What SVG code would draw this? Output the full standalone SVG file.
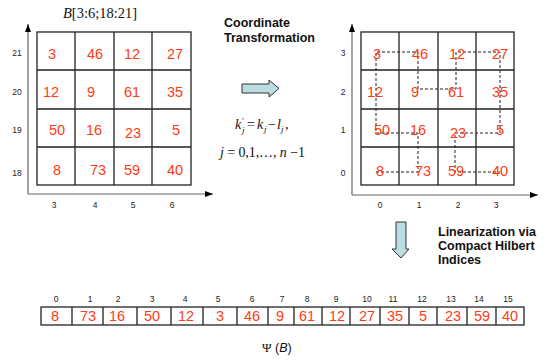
<svg xmlns="http://www.w3.org/2000/svg" width="549" height="360" viewBox="0 0 549 360">
  <defs>
    <marker id="ah" viewBox="0 0 8 6" refX="8" refY="3" markerWidth="8" markerHeight="6" orient="auto" markerUnits="userSpaceOnUse">
      <path d="M0,0 L8,3 L0,6 z" fill="#000"/>
    </marker>
    <style>
      .grid { fill: none; stroke: #222; stroke-width: 1.3; }
      .axis { fill: none; stroke: #666; stroke-width: 1.2; }
      .num { font-family: "Liberation Sans", Arial, sans-serif; font-size: 14.5px; fill: #ff3b14; text-anchor: middle; }
      .tick { font-family: "Liberation Sans", Arial, sans-serif; font-size: 8.5px; fill: #222; text-anchor: middle; }
      .head { font-family: "Liberation Sans", Arial, sans-serif; font-size: 12.5px; font-weight: bold; fill: #111; }
      .math { font-family: "Liberation Serif", "Times New Roman", serif; fill: #111; }
      .path { fill: none; stroke: #222; stroke-width: 1; stroke-dasharray: 3 2; }
      .block { fill: #b9dde0; stroke: #333; stroke-width: 1; }
    </style>
  </defs>

  <!-- source block B[3:6;18:21] -->
  <g id="source-grid">
    <text class="math" x="100" y="18" font-size="14.5" text-anchor="middle"><tspan font-style="italic">B</tspan>[3:6;18:21]</text>
    <rect class="grid" x="37" y="32" width="154" height="153"/>
    <path class="grid" d="M75,32V185 M114,32V185 M152,32V185 M37,70H191 M37,109H191 M37,147H191"/>
    <path class="axis" d="M28,194V24" marker-end="url(#ah)"/>
    <path class="axis" d="M28,194H213" marker-end="url(#ah)"/>
    <text class="tick" x="17" y="56">21</text>
    <text class="tick" x="17" y="95">20</text>
    <text class="tick" x="17" y="133">19</text>
    <text class="tick" x="17" y="176">18</text>
    <text class="tick" x="54" y="208">3</text>
    <text class="tick" x="95" y="208">4</text>
    <text class="tick" x="133" y="208">5</text>
    <text class="tick" x="172" y="208">6</text>
    <text class="num" x="52" y="59">3</text>
    <text class="num" x="95" y="59">46</text>
    <text class="num" x="132" y="59">12</text>
    <text class="num" x="175" y="59">27</text>
    <text class="num" x="51" y="97">12</text>
    <text class="num" x="91" y="97">9</text>
    <text class="num" x="132" y="97">61</text>
    <text class="num" x="175" y="97">35</text>
    <text class="num" x="57" y="135">50</text>
    <text class="num" x="94" y="135">16</text>
    <text class="num" x="133" y="138">23</text>
    <text class="num" x="176" y="135">5</text>
    <text class="num" x="57" y="175">8</text>
    <text class="num" x="98" y="175">73</text>
    <text class="num" x="132" y="175">59</text>
    <text class="num" x="175" y="175">40</text>
  </g>

  <!-- transformation step -->
  <g id="transform">
    <text class="head" x="224" y="27">Coordinate</text>
    <text class="head" x="224" y="42">Transformation</text>
    <path class="block" d="M242,84H269V80L279,88.5L269,97V93H242z"/>
    <g class="math" font-size="14">
      <text x="235" y="129" font-style="italic">k</text>
      <text x="242" y="124" font-size="9">'</text>
      <text x="242" y="133" font-size="9" font-style="italic">j</text>
      <text x="247" y="129">=</text>
      <text x="257" y="129" font-style="italic">k</text>
      <text x="264" y="132" font-size="9" font-style="italic">j</text>
      <text x="268" y="129">−</text>
      <text x="277" y="129" font-style="italic">l</text>
      <text x="281" y="132" font-size="9" font-style="italic">j</text>
      <text x="285" y="129">,</text>
    </g>
    <text class="math" x="220" y="157" font-size="14" textLength="85" lengthAdjust="spacing"><tspan font-style="italic">j</tspan> = 0,1,…, <tspan font-style="italic">n</tspan> −1</text>
  </g>

  <!-- transformed block with Hilbert curve -->
  <g id="target-grid">
    <rect class="grid" x="361" y="32" width="153" height="153"/>
    <path class="grid" d="M399,32V185 M438,32V185 M476,32V185 M361,70H514 M361,109H514 M361,147H514"/>
    <path class="axis" d="M352,195V24" marker-end="url(#ah)"/>
    <path class="axis" d="M352,195H538" marker-end="url(#ah)"/>
    <text class="tick" x="343" y="56">3</text>
    <text class="tick" x="343" y="95">2</text>
    <text class="tick" x="343" y="133">1</text>
    <text class="tick" x="343" y="176">0</text>
    <text class="tick" x="380" y="208">0</text>
    <text class="tick" x="419" y="208">1</text>
    <text class="tick" x="458" y="208">2</text>
    <text class="tick" x="496" y="208">3</text>
  </g>

  <g id="connectors">
    <path class="path" d="M376,172H418V133H376V52H418V89H456V52H500V133H455V172H500"/>
  </g>

  <g id="target-values">
    <text class="num" x="377" y="59">3</text>
    <text class="num" x="420" y="59">46</text>
    <text class="num" x="457" y="59">12</text>
    <text class="num" x="500" y="59">27</text>
    <text class="num" x="375" y="97">12</text>
    <text class="num" x="415" y="97">9</text>
    <text class="num" x="456" y="97">61</text>
    <text class="num" x="500" y="97">35</text>
    <text class="num" x="382" y="135">50</text>
    <text class="num" x="418" y="135">16</text>
    <text class="num" x="458" y="138">23</text>
    <text class="num" x="500" y="135">5</text>
    <text class="num" x="380" y="176">8</text>
    <text class="num" x="423" y="176">73</text>
    <text class="num" x="456" y="176">59</text>
    <text class="num" x="500" y="176">40</text>
  </g>

  <!-- linearization step -->
  <g id="linearize">
    <path class="block" d="M396,222H406V249H409L401,258L392,249H396z"/>
    <text class="head" x="438" y="236">Linearization via</text>
    <text class="head" x="438" y="250">Compact Hilbert</text>
    <text class="head" x="438" y="264">Indices</text>
  </g>

  <!-- linear array Psi(B) -->
  <g id="array">
    <rect class="grid" x="41" y="307" width="483" height="18"/>
    <path class="grid" d="M72,307V325 M103,307V325 M137,307V325 M171,307V325 M203,307V325 M237,307V325 M268,307V325 M294,307V325 M322,307V325 M350,307V325 M380,307V325 M409,307V325 M437,307V325 M467,307V325 M496,307V325"/>
    <text class="tick" x="56" y="302">0</text>
    <text class="tick" x="90" y="302">1</text>
    <text class="tick" x="118" y="302">2</text>
    <text class="tick" x="152" y="302">3</text>
    <text class="tick" x="185" y="302">4</text>
    <text class="tick" x="218" y="302">5</text>
    <text class="tick" x="252" y="302">6</text>
    <text class="tick" x="282" y="302">7</text>
    <text class="tick" x="307" y="302">8</text>
    <text class="tick" x="336" y="302">9</text>
    <text class="tick" x="367" y="302">10</text>
    <text class="tick" x="393" y="302">11</text>
    <text class="tick" x="422" y="302">12</text>
    <text class="tick" x="451" y="302">13</text>
    <text class="tick" x="479" y="302">14</text>
    <text class="tick" x="508" y="302">15</text>
    <text class="num" x="55" y="321">8</text>
    <text class="num" x="88" y="321">73</text>
    <text class="num" x="117" y="321">16</text>
    <text class="num" x="152" y="321">50</text>
    <text class="num" x="186" y="321">12</text>
    <text class="num" x="220" y="321">3</text>
    <text class="num" x="252" y="321">46</text>
    <text class="num" x="280" y="321">9</text>
    <text class="num" x="307" y="321">61</text>
    <text class="num" x="337" y="321">12</text>
    <text class="num" x="367" y="321">27</text>
    <text class="num" x="395" y="321">35</text>
    <text class="num" x="423" y="321">5</text>
    <text class="num" x="453" y="321">23</text>
    <text class="num" x="482" y="321">59</text>
    <text class="num" x="510" y="321">40</text>
    <text x="262" y="352" font-family="Liberation Serif, serif" font-size="13" fill="#111">Ψ<tspan font-family="Liberation Sans, Arial, sans-serif" font-size="12.5"> (<tspan font-style="italic">B</tspan>)</tspan></text>
  </g>
</svg>
